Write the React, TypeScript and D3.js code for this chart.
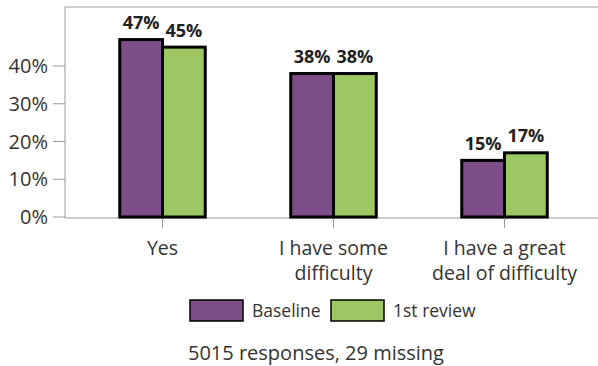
import React from "react";
import * as d3 from "d3";

const categories = ["Yes", "I have some difficulty", "I have a great deal of difficulty"];
const categoryLines = [["Yes"], ["I have some", "difficulty"], ["I have a great", "deal of difficulty"]];
const seriesNames = ["Baseline", "1st review"];
const baseline = [47, 38, 15];
const firstReview = [45, 38, 17];
const yTicks = [0, 10, 20, 30, 40];
const colors = ["#7D4D87", "#9CC763"];

const W = 598;
const H = 366;
const FONT = "'Open Sans', 'Noto Sans', sans-serif";

export default function App() {
  const x = d3.scaleBand<string>().domain(categories).range([77, 590]).paddingInner(0.5).paddingOuter(0.25);
  const sub = d3.scaleBand<string>().domain(seriesNames).range([0, x.bandwidth()]);
  const y = d3.scaleLinear().domain([0, 40]).range([217, 66]);
  const series = [baseline, firstReview];
  const plotLeft = 65;
  const plotTop = 7;
  const plotBottom = 218;

  return (
    <svg width={W} height={H} style={{ position: "absolute", left: 0, top: 0 }} fontFamily={FONT}>
      <rect x={0} y={0} width={W} height={H} fill="#fff" />
      {/* frame */}
      <line x1={plotLeft} x2={W + 2} y1={plotTop} y2={plotTop} stroke="#9a9a9a" strokeWidth={1} />
      <line x1={plotLeft} x2={plotLeft} y1={plotTop} y2={plotBottom} stroke="#9a9a9a" strokeWidth={1} />
      <line x1={plotLeft} x2={W + 2} y1={plotBottom} y2={plotBottom} stroke="#9a9a9a" strokeWidth={1} />
      {/* y ticks */}
      {yTicks.map((t) => (
        <g key={t}>
          <line x1={53} x2={plotLeft} y1={y(t)} y2={y(t)} stroke="#9a9a9a" />
          <text x={48} y={y(t)} dy="0.36em" textAnchor="end" fontSize={20} fill="#333">
            {t}%
          </text>
        </g>
      ))}
      {/* bars */}
      {categories.map((c, i) =>
        seriesNames.map((s, j) => {
          const v = series[j][i];
          const bx = (x(c) as number) + (sub(s) as number);
          return (
            <g key={c + s}>
              <rect
                x={bx}
                y={y(v)}
                width={sub.bandwidth()}
                height={y(0) - y(v)}
                fill={colors[j]}
                stroke="#000"
                strokeWidth={3}
              />
              <text
                x={bx + sub.bandwidth() / 2}
                y={y(v) - 10.5}
                textAnchor="middle"
                fontSize={18}
                fontWeight="bold"
                fill="#222"
              >
                {v}%
              </text>
            </g>
          );
        })
      )}
      {/* category ticks and labels */}
      {categories.map((c, i) => {
        const cx = (x(c) as number) + x.bandwidth() / 2;
        return (
          <g key={c}>
            <line x1={cx} x2={cx} y1={plotBottom} y2={228} stroke="#9a9a9a" />
            {categoryLines[i].map((ln, k) => (
              <text key={k} x={cx} y={255 + k * 25} textAnchor="middle" fontSize={19.5} fill="#333">
                {ln}
              </text>
            ))}
          </g>
        );
      })}
      {/* legend */}
      <rect x={190} y={300} width={53} height={21} fill={colors[0]} stroke="#000" strokeWidth={1.5} />
      <text x={252} y={317} fontSize={17.5} fill="#333">{seriesNames[0]}</text>
      <rect x={331} y={300} width={53} height={21} fill={colors[1]} stroke="#000" strokeWidth={1.5} />
      <text x={393} y={317} fontSize={17.5} fill="#333">{seriesNames[1]}</text>
      {/* footer */}
      <text x={188} y={360} fontSize={20} fill="#333">5015 responses, 29 missing</text>
    </svg>
  );
}
